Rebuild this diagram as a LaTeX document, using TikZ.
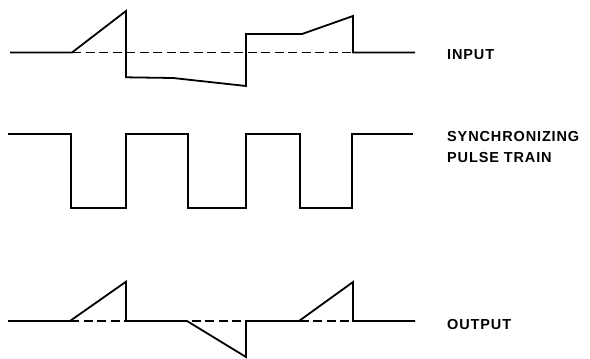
\documentclass[tikz,border=0pt]{standalone}
\usepackage{fontspec}
\newfontfamily\labelfont[LetterSpace=6]{Liberation Sans Bold}
\begin{document}
\begin{tikzpicture}[x=1pt,y=-1pt,
  wave/.style={line width=1.8pt,line join=miter},
  zero/.style={line width=1.2pt,dash pattern=on 9pt off 4.5pt},
  lbl/.style={anchor=base west,inner sep=0pt,font=\labelfont\fontsize{14.5}{21}\selectfont}]
\useasboundingbox (0,0) rectangle (590,359);
% INPUT waveform
\draw[zero] (72,52.5) -- (353,52.5);
\draw[wave] (10,52.5) -- (72,52.5) -- (126,11) -- (126,77.3) -- (173,78) -- (246,86)
  -- (246,34) -- (302,34) -- (353,16) -- (353,52.5) -- (415,52.5);
% pulse train
\draw[wave] (8,134) -- (71,134) -- (71,208) -- (126,208) -- (126,134) -- (188,134)
  -- (188,208) -- (246,208) -- (246,134) -- (300,134) -- (300,208) -- (352,208)
  -- (352,134) -- (413,134);
% OUTPUT waveform
\draw[zero] (70,321) -- (353,321);
\draw[wave] (8,321) -- (70,321) -- (126,281.7) -- (126,321) -- (187,321) -- (246,357)
  -- (246,321) -- (299,321) -- (353,282) -- (353,321) -- (415,321);
% labels
\node[lbl] (in) at (447,59) {INPUT};
\node[lbl] (sync) at (447,141) {SYNCHRONIZING};
\node[lbl] (train) at (447,162) {PULSE TRAIN};
\node[lbl] (out) at (447,329) {OUTPUT};
\end{tikzpicture}
\end{document}
